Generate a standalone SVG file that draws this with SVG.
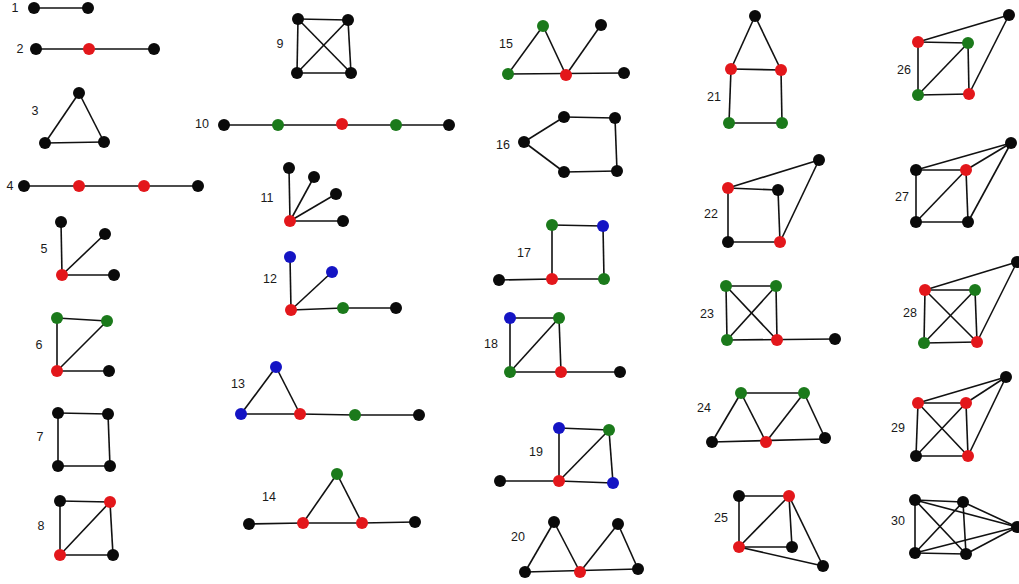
<svg xmlns="http://www.w3.org/2000/svg" width="1019" height="584" viewBox="0 0 1019 584">
<style>
.e line, line.e{stroke:#111;stroke-width:1.6;fill:none}
circle{stroke:none;r:6px}
.k{fill:#0a0a0a}.r{fill:#e3171b}.g{fill:#1b7a1b}.b{fill:#1414c4}
text{font-family:"Liberation Sans",Arial,sans-serif;font-size:12.5px;fill:#1a1a1a;text-anchor:middle}
</style>
<rect width="1019" height="584" fill="#fff"/>
<g id="connectors" class="e">
<line x1="34" y1="8" x2="88" y2="8"/>
<line x1="36" y1="49" x2="154" y2="49"/>
<line x1="79" y1="93" x2="45" y2="143"/><line x1="79" y1="93" x2="104" y2="142"/><line x1="45" y1="143" x2="104" y2="142"/>
<line x1="24" y1="186" x2="198" y2="186"/>
<line x1="62" y1="275" x2="61" y2="222"/><line x1="62" y1="275" x2="105" y2="234"/><line x1="62" y1="275" x2="114" y2="275"/>
<line x1="57" y1="318" x2="107" y2="321"/><line x1="57" y1="318" x2="57" y2="371"/><line x1="57" y1="371" x2="107" y2="321"/><line x1="57" y1="371" x2="109" y2="371"/>
<line x1="58" y1="413" x2="108" y2="414"/><line x1="108" y1="414" x2="110" y2="466"/><line x1="110" y1="466" x2="58" y2="466"/><line x1="58" y1="466" x2="58" y2="413"/>
<line x1="60" y1="501" x2="110" y2="502"/><line x1="110" y1="502" x2="113" y2="555"/><line x1="113" y1="555" x2="60" y2="555"/><line x1="60" y1="555" x2="60" y2="501"/><line x1="60" y1="555" x2="110" y2="502"/>
<line x1="298" y1="19" x2="348" y2="20"/><line x1="348" y1="20" x2="351" y2="73"/><line x1="351" y1="73" x2="297" y2="73"/><line x1="297" y1="73" x2="298" y2="19"/><line x1="298" y1="19" x2="351" y2="73"/><line x1="348" y1="20" x2="297" y2="73"/>
<line x1="224" y1="125" x2="449" y2="125"/>
<line x1="290" y1="221" x2="289" y2="168"/><line x1="290" y1="221" x2="314" y2="177"/><line x1="290" y1="221" x2="336" y2="194"/><line x1="290" y1="221" x2="343" y2="221"/>
<line x1="291" y1="310" x2="290" y2="257"/><line x1="291" y1="310" x2="332" y2="272"/><line x1="291" y1="310" x2="343" y2="308"/><line x1="343" y1="308" x2="396" y2="308"/>
<line x1="241" y1="414" x2="276" y2="367"/><line x1="276" y1="367" x2="300" y2="414"/><line x1="241" y1="414" x2="300" y2="414"/><line x1="300" y1="414" x2="355" y2="415"/><line x1="355" y1="415" x2="419" y2="415"/>
<line x1="249" y1="524" x2="303" y2="523"/><line x1="303" y1="523" x2="362" y2="523"/><line x1="362" y1="523" x2="415" y2="522"/><line x1="303" y1="523" x2="337" y2="474"/><line x1="337" y1="474" x2="362" y2="523"/>
<line x1="508" y1="74" x2="543" y2="26"/><line x1="543" y1="26" x2="566" y2="75"/><line x1="566" y1="75" x2="601" y2="25"/><line x1="508" y1="74" x2="624" y2="73"/>
<line x1="524" y1="142" x2="564" y2="117"/><line x1="564" y1="117" x2="615" y2="118"/><line x1="615" y1="118" x2="617" y2="171"/><line x1="617" y1="171" x2="564" y2="172"/><line x1="564" y1="172" x2="524" y2="142"/>
<line x1="499" y1="280" x2="552" y2="279"/><line x1="552" y1="279" x2="552" y2="225"/><line x1="552" y1="225" x2="603" y2="226"/><line x1="603" y1="226" x2="604" y2="279"/><line x1="604" y1="279" x2="552" y2="279"/>
<line x1="510" y1="318" x2="559" y2="318"/><line x1="559" y1="318" x2="561" y2="372"/><line x1="510" y1="372" x2="620" y2="372"/><line x1="510" y1="372" x2="510" y2="318"/><line x1="510" y1="372" x2="559" y2="318"/>
<line x1="559" y1="428" x2="609" y2="430"/><line x1="609" y1="430" x2="613" y2="483"/><line x1="500" y1="481" x2="559" y2="481"/><line x1="559" y1="481" x2="613" y2="483"/><line x1="559" y1="481" x2="559" y2="428"/><line x1="559" y1="481" x2="609" y2="430"/>
<line x1="525" y1="572" x2="554" y2="522"/><line x1="554" y1="522" x2="580" y2="572"/><line x1="580" y1="572" x2="618" y2="524"/><line x1="618" y1="524" x2="638" y2="569"/><line x1="525" y1="572" x2="638" y2="569"/>
<line x1="755" y1="16" x2="731" y2="69"/><line x1="755" y1="16" x2="781" y2="70"/><line x1="731" y1="69" x2="781" y2="70"/><line x1="731" y1="69" x2="729" y2="123"/><line x1="781" y1="70" x2="782" y2="123"/><line x1="729" y1="123" x2="782" y2="123"/>
<line x1="728" y1="188" x2="778" y2="190"/><line x1="778" y1="190" x2="780" y2="242"/><line x1="780" y1="242" x2="728" y2="242"/><line x1="728" y1="242" x2="728" y2="188"/><line x1="728" y1="188" x2="819" y2="160"/><line x1="819" y1="160" x2="780" y2="242"/>
<line x1="726" y1="286" x2="776" y2="286"/><line x1="776" y1="286" x2="777" y2="340"/><line x1="727" y1="340" x2="835" y2="339"/><line x1="727" y1="340" x2="726" y2="286"/><line x1="726" y1="286" x2="777" y2="340"/><line x1="776" y1="286" x2="727" y2="340"/>
<line x1="712" y1="442" x2="741" y2="393"/><line x1="741" y1="393" x2="804" y2="393"/><line x1="741" y1="393" x2="766" y2="442"/><line x1="766" y1="442" x2="804" y2="393"/><line x1="804" y1="393" x2="825" y2="438"/><line x1="712" y1="442" x2="825" y2="439"/>
<line x1="739" y1="496" x2="789" y2="496"/><line x1="739" y1="496" x2="739" y2="547"/><line x1="739" y1="547" x2="789" y2="496"/><line x1="789" y1="496" x2="792" y2="547"/><line x1="739" y1="547" x2="792" y2="547"/><line x1="789" y1="496" x2="823" y2="566"/><line x1="739" y1="547" x2="823" y2="566"/>
<line x1="918" y1="42" x2="968" y2="43"/><line x1="968" y1="43" x2="969" y2="94"/><line x1="969" y1="94" x2="918" y2="95"/><line x1="918" y1="95" x2="918" y2="42"/><line x1="918" y1="95" x2="968" y2="43"/><line x1="918" y1="42" x2="1009" y2="15"/><line x1="1009" y1="15" x2="969" y2="94"/>
<line x1="916" y1="170" x2="966" y2="170"/><line x1="966" y1="170" x2="968" y2="222"/><line x1="968" y1="222" x2="916" y2="222"/><line x1="916" y1="222" x2="916" y2="170"/><line x1="916" y1="222" x2="966" y2="170"/><line x1="916" y1="170" x2="1011" y2="143"/><line x1="966" y1="170" x2="1011" y2="143"/><line x1="968" y1="222" x2="1011" y2="143"/>
<line x1="925" y1="290" x2="975" y2="290"/><line x1="975" y1="290" x2="977" y2="342"/><line x1="977" y1="342" x2="924" y2="343"/><line x1="924" y1="343" x2="925" y2="290"/><line x1="925" y1="290" x2="977" y2="342"/><line x1="975" y1="290" x2="924" y2="343"/><line x1="925" y1="290" x2="1017" y2="262"/><line x1="977" y1="342" x2="1017" y2="262"/>
<line x1="918" y1="403" x2="966" y2="403"/><line x1="966" y1="403" x2="968" y2="456"/><line x1="968" y1="456" x2="916" y2="456"/><line x1="916" y1="456" x2="918" y2="403"/><line x1="918" y1="403" x2="968" y2="456"/><line x1="966" y1="403" x2="916" y2="456"/><line x1="918" y1="403" x2="1006" y2="377"/><line x1="966" y1="403" x2="1006" y2="377"/><line x1="968" y1="456" x2="1006" y2="377"/>
<line x1="915" y1="500" x2="963" y2="502"/><line x1="963" y1="502" x2="966" y2="554"/><line x1="966" y1="554" x2="915" y2="553"/><line x1="915" y1="553" x2="915" y2="500"/><line x1="915" y1="500" x2="966" y2="554"/><line x1="963" y1="502" x2="915" y2="553"/><line x1="915" y1="500" x2="1017" y2="527"/><line x1="963" y1="502" x2="1017" y2="527"/><line x1="915" y1="553" x2="1017" y2="527"/><line x1="966" y1="554" x2="1017" y2="527"/>
</g>
<g id="graph1"><text x="15" y="12">1</text><circle class="k" cx="34" cy="8" r="6"/><circle class="k" cx="88" cy="8" r="6"/></g>
<g id="graph2"><text x="20" y="53">2</text><circle class="k" cx="36" cy="49" r="6"/><circle class="r" cx="89" cy="49" r="6"/><circle class="k" cx="154" cy="49" r="6"/></g>
<g id="graph3"><text x="35" y="115">3</text><circle class="k" cx="79" cy="93" r="6"/><circle class="k" cx="45" cy="143" r="6"/><circle class="k" cx="104" cy="142" r="6"/></g>
<g id="graph4"><text x="10" y="190">4</text><circle class="k" cx="24" cy="186" r="6"/><circle class="r" cx="79" cy="186" r="6"/><circle class="r" cx="144" cy="186" r="6"/><circle class="k" cx="198" cy="186" r="6"/></g>
<g id="graph5"><text x="44" y="253">5</text><circle class="k" cx="61" cy="222" r="6"/><circle class="k" cx="105" cy="234" r="6"/><circle class="r" cx="62" cy="275" r="6"/><circle class="k" cx="114" cy="275" r="6"/></g>
<g id="graph6"><text x="39" y="349">6</text><circle class="g" cx="57" cy="318" r="6"/><circle class="g" cx="107" cy="321" r="6"/><circle class="r" cx="57" cy="371" r="6"/><circle class="k" cx="109" cy="371" r="6"/></g>
<g id="graph7"><text x="40" y="441">7</text><circle class="k" cx="58" cy="413" r="6"/><circle class="k" cx="108" cy="414" r="6"/><circle class="k" cx="58" cy="466" r="6"/><circle class="k" cx="110" cy="466" r="6"/></g>
<g id="graph8"><text x="41" y="530">8</text><circle class="k" cx="60" cy="501" r="6"/><circle class="r" cx="110" cy="502" r="6"/><circle class="r" cx="60" cy="555" r="6"/><circle class="k" cx="113" cy="555" r="6"/></g>
<g id="graph9"><text x="280" y="48">9</text><circle class="k" cx="298" cy="19" r="6"/><circle class="k" cx="348" cy="20" r="6"/><circle class="k" cx="297" cy="73" r="6"/><circle class="k" cx="351" cy="73" r="6"/></g>
<g id="graph10"><text x="202" y="128">10</text><circle class="k" cx="224" cy="125" r="6"/><circle class="g" cx="278" cy="125" r="6"/><circle class="r" cx="342" cy="124" r="6"/><circle class="g" cx="396" cy="125" r="6"/><circle class="k" cx="449" cy="125" r="6"/></g>
<g id="graph11"><text x="267" y="202">11</text><circle class="k" cx="289" cy="168" r="6"/><circle class="k" cx="314" cy="177" r="6"/><circle class="k" cx="336" cy="194" r="6"/><circle class="k" cx="343" cy="221" r="6"/><circle class="r" cx="290" cy="221" r="6"/></g>
<g id="graph12"><text x="270" y="283">12</text><circle class="b" cx="290" cy="257" r="6"/><circle class="b" cx="332" cy="272" r="6"/><circle class="r" cx="291" cy="310" r="6"/><circle class="g" cx="343" cy="308" r="6"/><circle class="k" cx="396" cy="308" r="6"/></g>
<g id="graph13"><text x="238" y="388">13</text><circle class="b" cx="276" cy="367" r="6"/><circle class="b" cx="241" cy="414" r="6"/><circle class="r" cx="300" cy="414" r="6"/><circle class="g" cx="355" cy="415" r="6"/><circle class="k" cx="419" cy="415" r="6"/></g>
<g id="graph14"><text x="269" y="501">14</text><circle class="g" cx="337" cy="474" r="6"/><circle class="k" cx="249" cy="524" r="6"/><circle class="r" cx="303" cy="523" r="6"/><circle class="r" cx="362" cy="523" r="6"/><circle class="k" cx="415" cy="522" r="6"/></g>
<g id="graph15"><text x="506" y="48">15</text><circle class="g" cx="543" cy="26" r="6"/><circle class="k" cx="601" cy="25" r="6"/><circle class="g" cx="508" cy="74" r="6"/><circle class="r" cx="566" cy="75" r="6"/><circle class="k" cx="624" cy="73" r="6"/></g>
<g id="graph16"><text x="503" y="149">16</text><circle class="k" cx="524" cy="142" r="6"/><circle class="k" cx="564" cy="117" r="6"/><circle class="k" cx="615" cy="118" r="6"/><circle class="k" cx="617" cy="171" r="6"/><circle class="k" cx="564" cy="172" r="6"/></g>
<g id="graph17"><text x="524" y="257">17</text><circle class="g" cx="552" cy="225" r="6"/><circle class="b" cx="603" cy="226" r="6"/><circle class="r" cx="552" cy="279" r="6"/><circle class="g" cx="604" cy="279" r="6"/><circle class="k" cx="499" cy="280" r="6"/></g>
<g id="graph18"><text x="491" y="348">18</text><circle class="b" cx="510" cy="318" r="6"/><circle class="g" cx="559" cy="318" r="6"/><circle class="g" cx="510" cy="372" r="6"/><circle class="r" cx="561" cy="372" r="6"/><circle class="k" cx="620" cy="372" r="6"/></g>
<g id="graph19"><text x="536" y="456">19</text><circle class="b" cx="559" cy="428" r="6"/><circle class="g" cx="609" cy="430" r="6"/><circle class="r" cx="559" cy="481" r="6"/><circle class="b" cx="613" cy="483" r="6"/><circle class="k" cx="500" cy="481" r="6"/></g>
<g id="graph20"><text x="518" y="541">20</text><circle class="k" cx="554" cy="522" r="6"/><circle class="k" cx="618" cy="524" r="6"/><circle class="k" cx="525" cy="572" r="6"/><circle class="r" cx="580" cy="572" r="6"/><circle class="k" cx="638" cy="569" r="6"/></g>
<g id="graph21"><text x="714" y="101">21</text><circle class="k" cx="755" cy="16" r="6"/><circle class="r" cx="731" cy="69" r="6"/><circle class="r" cx="781" cy="70" r="6"/><circle class="g" cx="729" cy="123" r="6"/><circle class="g" cx="782" cy="123" r="6"/></g>
<g id="graph22"><text x="711" y="218">22</text><circle class="k" cx="819" cy="160" r="6"/><circle class="r" cx="728" cy="188" r="6"/><circle class="k" cx="778" cy="190" r="6"/><circle class="k" cx="728" cy="242" r="6"/><circle class="r" cx="780" cy="242" r="6"/></g>
<g id="graph23"><text x="707" y="318">23</text><circle class="g" cx="726" cy="286" r="6"/><circle class="g" cx="776" cy="286" r="6"/><circle class="g" cx="727" cy="340" r="6"/><circle class="r" cx="777" cy="340" r="6"/><circle class="k" cx="835" cy="339" r="6"/></g>
<g id="graph24"><text x="704" y="412">24</text><circle class="g" cx="741" cy="393" r="6"/><circle class="g" cx="804" cy="393" r="6"/><circle class="k" cx="712" cy="442" r="6"/><circle class="r" cx="766" cy="442" r="6"/><circle class="k" cx="825" cy="438" r="6"/></g>
<g id="graph25"><text x="721" y="522">25</text><circle class="k" cx="739" cy="496" r="6"/><circle class="r" cx="789" cy="496" r="6"/><circle class="r" cx="739" cy="547" r="6"/><circle class="k" cx="792" cy="547" r="6"/><circle class="k" cx="823" cy="566" r="6"/></g>
<g id="graph26"><text x="904" y="74">26</text><circle class="k" cx="1009" cy="15" r="6"/><circle class="r" cx="918" cy="42" r="6"/><circle class="g" cx="968" cy="43" r="6"/><circle class="g" cx="918" cy="95" r="6"/><circle class="r" cx="969" cy="94" r="6"/></g>
<g id="graph27"><text x="902" y="201">27</text><circle class="k" cx="1011" cy="143" r="6"/><circle class="k" cx="916" cy="170" r="6"/><circle class="r" cx="966" cy="170" r="6"/><circle class="k" cx="916" cy="222" r="6"/><circle class="k" cx="968" cy="222" r="6"/></g>
<g id="graph28"><text x="910" y="317">28</text><circle class="k" cx="1017" cy="262" r="6"/><circle class="r" cx="925" cy="290" r="6"/><circle class="g" cx="975" cy="290" r="6"/><circle class="g" cx="924" cy="343" r="6"/><circle class="r" cx="977" cy="342" r="6"/></g>
<g id="graph29"><text x="898" y="432">29</text><circle class="k" cx="1006" cy="377" r="6"/><circle class="r" cx="918" cy="403" r="6"/><circle class="r" cx="966" cy="403" r="6"/><circle class="k" cx="916" cy="456" r="6"/><circle class="r" cx="968" cy="456" r="6"/></g>
<g id="graph30"><text x="898" y="525">30</text><circle class="k" cx="915" cy="500" r="6"/><circle class="k" cx="963" cy="502" r="6"/><circle class="k" cx="915" cy="553" r="6"/><circle class="k" cx="966" cy="554" r="6"/><circle class="k" cx="1017" cy="527" r="6"/></g>
</svg>
